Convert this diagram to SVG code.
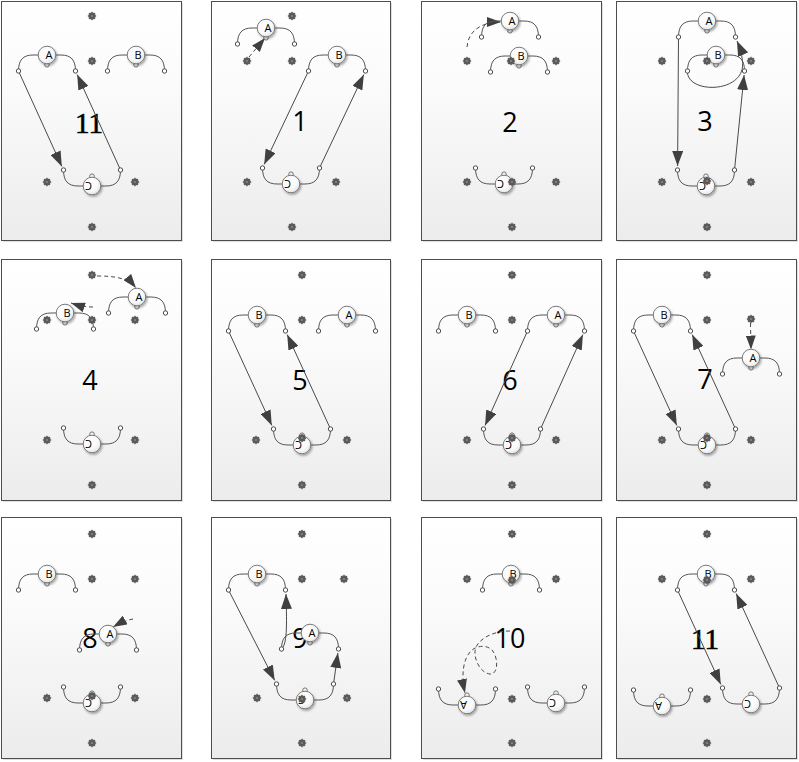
<svg xmlns="http://www.w3.org/2000/svg" width="799" height="762" viewBox="0 0 799 762">
<style>
.panel{fill:url(#pg);stroke:#4d4d4d;stroke-width:1}
.pshadow{fill:#000;opacity:.12}
.arm{fill:none;stroke:#555;stroke-width:1}
.end{fill:#fff;stroke:#3a3a3a;stroke-width:.9}
.bump{fill:#f4f4f4;stroke:#666;stroke-width:.9}
.nc{fill:url(#ng);stroke:#7a7a7a;stroke-width:1;filter:url(#sh)}
.lbl{font-family:"Open Sans","Liberation Sans",sans-serif;font-size:11px;text-anchor:middle;fill:#000}
.num{font-family:"Open Sans","Liberation Sans",sans-serif;font-size:27px;text-anchor:middle;fill:#000}
.numS{font-family:"Liberation Serif",serif;font-size:29px;text-anchor:middle;fill:#000;stroke:#000;stroke-width:.6}
.ln{fill:none;stroke:#4a4a4a;stroke-width:1;marker-end:url(#ah)}
.dl{fill:none;stroke:#4a4a4a;stroke-width:1;stroke-dasharray:4 3;marker-end:url(#ahd)}
.st{fill:#5a5a5a;stroke:#6a6a6a;stroke-width:.4}
</style>
<defs>
<linearGradient id="pg" x1="0" y1="0" x2="0" y2="1">
<stop offset="0" stop-color="#ffffff"/>
<stop offset="0.35" stop-color="#fbfbfb"/>
<stop offset="1" stop-color="#ececec"/>
</linearGradient>
<radialGradient id="ng" cx="0.4" cy="0.35" r="0.7">
<stop offset="0" stop-color="#ffffff"/>
<stop offset="0.6" stop-color="#fafafa"/>
<stop offset="1" stop-color="#e2e2e2"/>
</radialGradient>
<filter id="sh" x="-50%" y="-50%" width="200%" height="200%">
<feDropShadow dx="1.2" dy="1.6" stdDeviation="1" flood-color="#000" flood-opacity="0.35"/>
</filter>
<marker id="ah" markerUnits="userSpaceOnUse" viewBox="0 0 15 11" markerWidth="15" markerHeight="11" refX="15" refY="5.5" orient="auto">
<path d="M0,0 L15,5.5 L0,11 Z" fill="#404040"/>
</marker>
<marker id="ahd" markerUnits="userSpaceOnUse" viewBox="0 0 14 10" markerWidth="14" markerHeight="10" refX="14" refY="5" orient="auto">
<path d="M0,0 L14,5 L0,10 Z" fill="#404040"/>
</marker>
<g id="st">
<polygon class="st" points="4.2,0 3.1,1.28 2.97,2.97 1.28,3.1 0,4.2 -1.28,3.1 -2.97,2.97 -3.1,1.28 -4.2,0 -3.1,-1.28 -2.97,-2.97 -1.28,-3.1 0,-4.2 1.28,-3.1 2.97,-2.97 3.1,-1.28"/>
<circle r="1.1" fill="#888"/>
</g>
<g id="arms">
<circle class="bump" cx="0" cy="9.8" r="2.3"/>
<path class="arm" d="M-28.5,16 C-28.5,5 -24,0 -14,0 H-8 M8,0 H14 C24,0 28.5,5 28.5,16"/>
<circle class="end" cx="-28.5" cy="16" r="2.2"/>
<circle class="end" cx="28.5" cy="16" r="2.2"/>
</g>
</defs>

<g id="panels">
<rect class="pshadow" x="3" y="3" width="180" height="239"/>
<rect class="panel" x="1.5" y="1.5" width="180" height="239"/>
<rect class="pshadow" x="213" y="3" width="179" height="239"/>
<rect class="panel" x="211.5" y="1.5" width="179" height="239"/>
<rect class="pshadow" x="423" y="3" width="180" height="239"/>
<rect class="panel" x="421.5" y="1.5" width="180" height="239"/>
<rect class="pshadow" x="618" y="3" width="180" height="239"/>
<rect class="panel" x="616.5" y="1.5" width="180" height="239"/>

<rect class="pshadow" x="3" y="261" width="180" height="241"/>
<rect class="panel" x="1.5" y="259.5" width="180" height="241"/>
<rect class="pshadow" x="213" y="261" width="179" height="241"/>
<rect class="panel" x="211.5" y="259.5" width="179" height="241"/>
<rect class="pshadow" x="423" y="261" width="180" height="241"/>
<rect class="panel" x="421.5" y="259.5" width="180" height="241"/>
<rect class="pshadow" x="618" y="261" width="180" height="241"/>
<rect class="panel" x="616.5" y="259.5" width="180" height="241"/>

<rect class="pshadow" x="3" y="519" width="180" height="241"/>
<rect class="panel" x="1.5" y="517.5" width="180" height="241"/>
<rect class="pshadow" x="213" y="519" width="179" height="241"/>
<rect class="panel" x="211.5" y="517.5" width="179" height="241"/>
<rect class="pshadow" x="423" y="519" width="180" height="241"/>
<rect class="panel" x="421.5" y="517.5" width="180" height="241"/>
<rect class="pshadow" x="618" y="519" width="180" height="241"/>
<rect class="panel" x="616.5" y="517.5" width="180" height="241"/>
</g>

<g id="step-numbers">
<text class="numS" x="89" y="133">11</text>
<text class="num" x="300" y="131">1</text>
<text class="num" x="510" y="132">2</text>
<text class="num" x="705" y="131">3</text>
<text class="num" x="90" y="390">4</text>
<text class="num" x="300" y="390">5</text>
<text class="num" x="510" y="390">6</text>
<text class="num" x="705" y="389">7</text>
<text class="num" x="90" y="648">8</text>
<text class="num" x="300" y="648">9</text>
<text class="num" x="510" y="648">10</text>
<text class="numS" x="705" y="649">11</text>
</g>

<g id="connectors">
<path class="ln" d="M18.5,71 L61.8,166.4"/>
<path class="ln" d="M120.5,170 L77.2,74.6"/>

<path class="dl" d="M249,57 L265,38"/>
<path class="ln" d="M308.5,71 L264.2,164.4"/>
<path class="ln" d="M319.5,168 L363.8,74.6"/>

<path class="dl" d="M467,47 C468,32 480,22 501,22"/>

<path class="ln" d="M678.5,37 L677.6,166"/>
<path class="ln" d="M734.5,170 L744.1,75"/>
<path class="ln" d="M687.5,71 C686,92 735,94 742,70 C744,62 741,50 737,41"/>

<path class="dl" d="M97,276 C115,276 128,278 136,288"/>
<path class="dl" d="M93,307 C86,307 80,306 71,303"/>

<path class="ln" d="M228.5,331 L271.8,425.4"/>
<path class="ln" d="M330.5,429 L287.2,334.6"/>

<path class="ln" d="M527.5,331 L485.1,425.4"/>
<path class="ln" d="M540.5,429 L582.9,334.6"/>

<path class="dl" d="M750.5,323 L751,349.5"/>
<path class="ln" d="M633.5,331 L676.8,425.4"/>
<path class="ln" d="M735.5,429 L692.2,334.6"/>

<path class="dl" d="M133,619 C127,620 120,623 113,627"/>

<path class="ln" d="M228.5,590 L274.7,680.4"/>
<path class="ln" d="M333.5,684 L337.9,653"/>
<path class="ln" d="M281.5,649 C287,644 287,628 286,594"/>

<path class="dl" d="M510,631 C495,631 481,637 476,647 C472,657 480,673 490,674 C498,675 499,658 492,650 C487,645 477,645 471,651 C463,659 461,675 465,693"/>

<path class="ln" d="M677.5,590 L720.8,684.4"/>
<path class="ln" d="M779.5,688 L736.2,593.6"/>
</g>

<g id="p1-A" transform="translate(47,55)"><use href="#arms"/><circle class="nc" r="8.8"/><text class="lbl" x="2" y="4">A</text></g>
<g id="p1-B" transform="translate(136,55)"><use href="#arms"/><circle class="nc" r="8.8"/><text class="lbl" x="2" y="4">B</text></g>
<g id="p1-C" transform="translate(92,186)"><use href="#arms" transform="rotate(180)"/><circle class="nc" r="8.8"/><text class="lbl" transform="rotate(180)" x="3.5" y="4">C</text></g>

<g id="p2-A" transform="translate(266,28)"><use href="#arms"/><circle class="nc" r="8.8"/><text class="lbl" x="2" y="4">A</text></g>
<g id="p2-B" transform="translate(337,55)"><use href="#arms"/><circle class="nc" r="8.8"/><text class="lbl" x="2" y="4">B</text></g>
<g id="p2-C" transform="translate(291,184)"><use href="#arms" transform="rotate(180)"/><circle class="nc" r="8.8"/><text class="lbl" transform="rotate(180)" x="3.5" y="4">C</text></g>

<g id="p3-A" transform="translate(510,21)"><use href="#arms"/><circle class="nc" r="8.8"/><text class="lbl" x="2" y="4">A</text></g>
<g id="p3-B" transform="translate(519,56)"><use href="#arms"/><circle class="nc" r="8.8"/><text class="lbl" x="2" y="4">B</text></g>
<g id="p3-C" transform="translate(504,184)"><use href="#arms" transform="rotate(180)"/><circle class="nc" r="8.8"/><text class="lbl" transform="rotate(180)" x="3.5" y="4">C</text></g>

<g id="p4-A" transform="translate(707,21)"><use href="#arms"/><circle class="nc" r="8.8"/><text class="lbl" x="2" y="4">A</text></g>
<g id="p4-B" transform="translate(716,55)"><use href="#arms"/><circle class="nc" r="8.8"/><text class="lbl" x="2" y="4">B</text></g>
<g id="p4-C" transform="translate(706,186)"><use href="#arms" transform="rotate(180)"/><circle class="nc" r="8.8"/><text class="lbl" transform="rotate(180)" x="3.5" y="4">C</text></g>

<g id="p5-A" transform="translate(137,297)"><use href="#arms"/><circle class="nc" r="8.8"/><text class="lbl" x="2" y="4">A</text></g>
<g id="p5-B" transform="translate(65,313)"><use href="#arms"/><circle class="nc" r="8.8"/><text class="lbl" x="2" y="4">B</text></g>
<g id="p5-C" transform="translate(92,444)"><use href="#arms" transform="rotate(180)"/><circle class="nc" r="8.8"/><text class="lbl" transform="rotate(180)" x="3.5" y="4">C</text></g>

<g id="p6-B" transform="translate(257,315)"><use href="#arms"/><circle class="nc" r="8.8"/><text class="lbl" x="2" y="4">B</text></g>
<g id="p6-A" transform="translate(347,315)"><use href="#arms"/><circle class="nc" r="8.8"/><text class="lbl" x="2" y="4">A</text></g>
<g id="p6-C" transform="translate(302,445)"><use href="#arms" transform="rotate(180)"/><circle class="nc" r="8.8"/><text class="lbl" transform="rotate(180)" x="3.5" y="4">C</text></g>

<g id="p7-B" transform="translate(467,315)"><use href="#arms"/><circle class="nc" r="8.8"/><text class="lbl" x="2" y="4">B</text></g>
<g id="p7-A" transform="translate(556,315)"><use href="#arms"/><circle class="nc" r="8.8"/><text class="lbl" x="2" y="4">A</text></g>
<g id="p7-C" transform="translate(512,445)"><use href="#arms" transform="rotate(180)"/><circle class="nc" r="8.8"/><text class="lbl" transform="rotate(180)" x="3.5" y="4">C</text></g>

<g id="p8-B" transform="translate(662,315)"><use href="#arms"/><circle class="nc" r="8.8"/><text class="lbl" x="2" y="4">B</text></g>
<g id="p8-A" transform="translate(751,358)"><use href="#arms"/><circle class="nc" r="8.8"/><text class="lbl" x="2" y="4">A</text></g>
<g id="p8-C" transform="translate(707,445)"><use href="#arms" transform="rotate(180)"/><circle class="nc" r="8.8"/><text class="lbl" transform="rotate(180)" x="3.5" y="4">C</text></g>

<g id="p9-B" transform="translate(47,574)"><use href="#arms"/><circle class="nc" r="8.8"/><text class="lbl" x="2" y="4">B</text></g>
<g id="p9-A" transform="translate(108,634)"><use href="#arms"/><circle class="nc" r="8.8"/><text class="lbl" x="2" y="4">A</text></g>
<g id="p9-C" transform="translate(92,703)"><use href="#arms" transform="rotate(180)"/><circle class="nc" r="8.8"/><text class="lbl" transform="rotate(180)" x="3.5" y="4">C</text></g>

<g id="p10-B" transform="translate(257,574)"><use href="#arms"/><circle class="nc" r="8.8"/><text class="lbl" x="2" y="4">B</text></g>
<g id="p10-A" transform="translate(310,633)"><use href="#arms"/><circle class="nc" r="8.8"/><text class="lbl" x="2" y="4">A</text></g>
<g id="p10-C" transform="translate(305,700)"><use href="#arms" transform="rotate(180)"/><circle class="nc" r="8.8"/><text class="lbl" transform="rotate(180)" x="3.5" y="4">C</text></g>

<g id="p11-B" transform="translate(511,574)"><use href="#arms"/><circle class="nc" r="8.8"/><text class="lbl" x="2" y="4">B</text></g>
<g id="p11-A" transform="translate(467,705)"><use href="#arms" transform="rotate(180)"/><circle class="nc" r="8.8"/><text class="lbl" transform="rotate(180)" x="3.5" y="4">A</text></g>
<g id="p11-C" transform="translate(556,703)"><use href="#arms" transform="rotate(180)"/><circle class="nc" r="8.8"/><text class="lbl" transform="rotate(180)" x="3.5" y="4">C</text></g>

<g id="p12-B" transform="translate(706,574)"><use href="#arms"/><circle class="nc" r="8.8"/><text class="lbl" x="2" y="4">B</text></g>
<g id="p12-A" transform="translate(662,706)"><use href="#arms" transform="rotate(180)"/><circle class="nc" r="8.8"/><text class="lbl" transform="rotate(180)" x="3.5" y="4">A</text></g>
<g id="p12-C" transform="translate(751,704)"><use href="#arms" transform="rotate(180)"/><circle class="nc" r="8.8"/><text class="lbl" transform="rotate(180)" x="3.5" y="4">C</text></g>

<g id="grid-stars">
<use href="#st" x="92" y="16"/><use href="#st" x="92" y="61"/><use href="#st" x="47" y="182"/><use href="#st" x="135" y="182"/><use href="#st" x="92" y="227"/>
<use href="#st" x="292" y="16"/><use href="#st" x="247" y="61"/><use href="#st" x="292" y="61"/><use href="#st" x="247" y="182"/><use href="#st" x="336" y="182"/><use href="#st" x="292" y="227"/>
<use href="#st" x="467" y="61"/><use href="#st" x="511" y="61"/><use href="#st" x="556" y="61"/><use href="#st" x="467" y="182"/><use href="#st" x="512" y="182"/><use href="#st" x="556" y="182"/><use href="#st" x="512" y="227"/>
<use href="#st" x="662" y="61"/><use href="#st" x="707" y="61"/><use href="#st" x="751" y="61"/><use href="#st" x="662" y="182"/><use href="#st" x="707" y="181"/><use href="#st" x="751" y="182"/><use href="#st" x="707" y="227"/>
<use href="#st" x="92" y="275"/><use href="#st" x="47" y="320"/><use href="#st" x="92" y="320"/><use href="#st" x="135" y="320"/><use href="#st" x="47" y="440"/><use href="#st" x="135" y="440"/><use href="#st" x="92" y="485"/>
<use href="#st" x="302" y="275"/><use href="#st" x="302" y="320"/><use href="#st" x="256" y="440"/><use href="#st" x="347" y="440"/><use href="#st" x="302" y="438"/><use href="#st" x="302" y="485"/>
<use href="#st" x="512" y="275"/><use href="#st" x="512" y="320"/><use href="#st" x="467" y="440"/><use href="#st" x="556" y="440"/><use href="#st" x="512" y="438"/><use href="#st" x="512" y="485"/>
<use href="#st" x="707" y="275"/><use href="#st" x="707" y="320"/><use href="#st" x="751" y="319"/><use href="#st" x="662" y="440"/><use href="#st" x="751" y="440"/><use href="#st" x="707" y="438"/><use href="#st" x="707" y="485"/>
<use href="#st" x="92" y="534"/><use href="#st" x="92" y="579"/><use href="#st" x="135" y="579"/><use href="#st" x="47" y="698"/><use href="#st" x="135" y="698"/><use href="#st" x="92" y="696"/><use href="#st" x="92" y="743"/>
<use href="#st" x="302" y="534"/><use href="#st" x="302" y="579"/><use href="#st" x="344" y="579"/><use href="#st" x="257" y="698"/><use href="#st" x="347" y="698"/><use href="#st" x="302" y="699"/><use href="#st" x="302" y="743"/>
<use href="#st" x="512" y="534"/><use href="#st" x="467" y="579"/><use href="#st" x="556" y="579"/><use href="#st" x="512" y="580"/><use href="#st" x="512" y="699"/><use href="#st" x="512" y="743"/>
<use href="#st" x="707" y="534"/><use href="#st" x="662" y="579"/><use href="#st" x="751" y="579"/><use href="#st" x="707" y="580"/><use href="#st" x="707" y="699"/><use href="#st" x="707" y="743"/>
</g>
</svg>
